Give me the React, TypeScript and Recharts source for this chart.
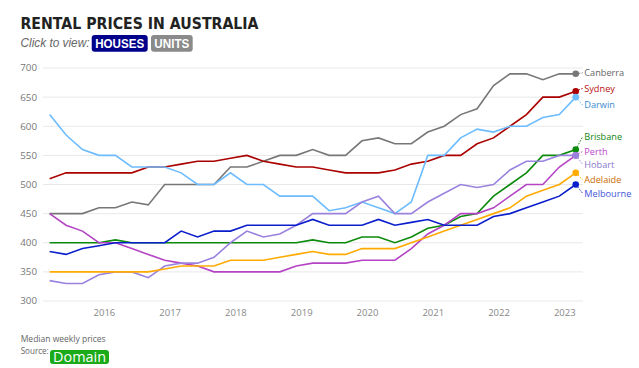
import React from "react";
import { LineChart, Line, XAxis, YAxis, CartesianGrid } from "recharts";

// quarterly medians, Mar 2015 .. Mar 2023
const quarters = [
  "2015-03", "2015-06", "2015-09", "2015-12",
  "2016-03", "2016-06", "2016-09", "2016-12",
  "2017-03", "2017-06", "2017-09", "2017-12",
  "2018-03", "2018-06", "2018-09", "2018-12",
  "2019-03", "2019-06", "2019-09", "2019-12",
  "2020-03", "2020-06", "2020-09", "2020-12",
  "2021-03", "2021-06", "2021-09", "2021-12",
  "2022-03", "2022-06", "2022-09", "2022-12",
  "2023-03",
];

const canberra = [450, 450, 450, 460, 460, 470, 465, 500, 500, 500, 500, 530, 530, 540, 550, 550, 560, 550, 550, 575, 580, 570, 570, 590, 600, 620, 630, 670, 690, 690, 680, 690, 690];
const sydney = [510, 520, 520, 520, 520, 520, 530, 530, 535, 540, 540, 545, 550, 540, 535, 530, 530, 525, 520, 520, 520, 525, 535, 540, 550, 550, 570, 580, 600, 620, 650, 650, 660];
const darwin = [620, 585, 560, 550, 550, 530, 530, 530, 520, 500, 500, 520, 500, 500, 480, 480, 480, 455, 460, 470, 460, 450, 470, 550, 550, 580, 595, 590, 600, 600, 615, 620, 650];
const brisbane = [400, 400, 400, 400, 405, 400, 400, 400, 400, 400, 400, 400, 400, 400, 400, 400, 405, 400, 400, 410, 410, 400, 410, 425, 430, 445, 450, 480, 500, 520, 550, 550, 560];
const perth = [450, 430, 420, 400, 400, 390, 380, 370, 365, 360, 350, 350, 350, 350, 350, 360, 365, 365, 365, 370, 370, 370, 390, 415, 430, 450, 450, 460, 480, 500, 500, 530, 550];
const hobart = [335, 330, 330, 345, 350, 350, 340, 360, 365, 365, 375, 400, 420, 410, 415, 430, 450, 450, 450, 470, 480, 450, 450, 470, 485, 500, 495, 500, 525, 540, 540, 550, 550];
const adelaide = [350, 350, 350, 350, 350, 350, 350, 355, 360, 360, 360, 370, 370, 370, 375, 380, 385, 380, 380, 390, 390, 390, 400, 410, 420, 430, 440, 450, 460, 480, 490, 500, 520];
const melbourne = [385, 380, 390, 395, 400, 400, 400, 400, 420, 410, 420, 420, 430, 430, 430, 430, 440, 430, 430, 430, 440, 430, 435, 440, 430, 430, 430, 445, 450, 460, 470, 480, 500];

const yearTicks = [2016, 2017, 2018, 2019, 2020, 2021, 2022, 2023];
const priceTicks = [300, 350, 400, 450, 500, 550, 600, 650, 700];

const series = [
  { key: "canberra", name: "Canberra", values: canberra },
  { key: "sydney", name: "Sydney", values: sydney },
  { key: "darwin", name: "Darwin", values: darwin },
  { key: "brisbane", name: "Brisbane", values: brisbane },
  { key: "perth", name: "Perth", values: perth },
  { key: "hobart", name: "Hobart", values: hobart },
  { key: "adelaide", name: "Adelaide", values: adelaide },
  { key: "melbourne", name: "Melbourne", values: melbourne },
];

// line colour, label colour, label nudge (px) so names don't collide
const look: Record<string, { stroke: string; text: string; dy: number }> = {
  canberra: { stroke: "#777777", text: "#666666", dy: -1 },
  sydney: { stroke: "#aa0000", text: "#bb1111", dy: -3 },
  darwin: { stroke: "#6cbcff", text: "#3a8ad0", dy: 8 },
  brisbane: { stroke: "#0c8a0c", text: "#118811", dy: -13 },
  perth: { stroke: "#b444c4", text: "#bb44cc", dy: -4 },
  hobart: { stroke: "#9a82de", text: "#8878cc", dy: 9 },
  adelaide: { stroke: "#ffaa00", text: "#c86a00", dy: 7 },
  melbourne: { stroke: "#0a1ecc", text: "#4455dd", dy: 9 },
};

function toYear(q: string) {
  const [y, m] = q.split("-").map(Number);
  return y + (m - 1) / 12;
}

const data = quarters.map((q, i) => {
  const row: Record<string, number> = { t: toYear(q) };
  series.forEach((s) => (row[s.key] = s.values[i]));
  return row;
});

const LAST = quarters.length - 1;

const endLabel = (key: string, name: string) => (props: any) => {
  const { cx, cy, index } = props;
  if (index !== LAST || cx == null) return <g key={`d-${key}-${index}`} />;
  const c = look[key];
  const ly = cy + c.dy;
  return (
    <g key={`d-${key}-${index}`}>
      <line x1={cx} y1={cy} x2={cx + 7} y2={ly} stroke={c.stroke} strokeWidth={1} strokeDasharray="1.5 1.5" />
      <circle cx={cx} cy={cy} r={3.3} fill={c.stroke} />
      <text x={cx + 8.5} y={ly} dy="0.35em" fontSize={9.2} fill={c.text}>{name}</text>
    </g>
  );
};

function Header() {
  return (
    <svg width={639} height={58} style={{ position: "absolute", left: 0, top: 0 }}>
      <text x={20.5} y={29.3} fontFamily="DejaVu Sans" fontWeight={700} fontSize={15.5}
        fill="#222" textLength={238} lengthAdjust="spacingAndGlyphs">RENTAL PRICES IN AUSTRALIA</text>
      <text x={20.5} y={46.5} fontFamily="Liberation Sans" fontStyle="italic" fontSize={12.5}
        fill="#666" textLength={69} lengthAdjust="spacingAndGlyphs">Click to view:</text>
      <rect x={91.7} y={35} width={56} height={16.7} rx={3} fill="#00008b" />
      <text x={119.7} y={47.8} textAnchor="middle" fontFamily="Liberation Sans" fontWeight={700}
        fontSize={12} fill="#fff" textLength={49} lengthAdjust="spacingAndGlyphs">HOUSES</text>
      <rect x={151} y={35} width={41.7} height={16.7} rx={3} fill="#8a8a8a" />
      <text x={171.8} y={47.8} textAnchor="middle" fontFamily="Liberation Sans" fontWeight={700}
        fontSize={12} fill="#fff" textLength={35} lengthAdjust="spacingAndGlyphs">UNITS</text>
    </svg>
  );
}

function Footer() {
  return (
    <svg width={639} height={43} style={{ position: "absolute", left: 0, top: 325 }}>
      <text x={20.7} y={16.8} fontSize={8.5} fill="#666" textLength={85} lengthAdjust="spacingAndGlyphs">Median weekly prices</text>
      <text x={20.7} y={29} fontSize={8.5} fill="#666" textLength={28} lengthAdjust="spacingAndGlyphs">Source:</text>
      <rect x={50} y={25} width={59} height={14} rx={3} fill="#1aaa1a" />
      <text x={79.5} y={36.6} textAnchor="middle" fontSize={14} fill="#fff" textLength={53} lengthAdjust="spacingAndGlyphs">Domain</text>
    </svg>
  );
}

export default function App() {
  return (
    <div style={{ position: "relative", width: 639, height: 368, background: "#fff", fontFamily: "'Open Sans', sans-serif" }}>
      <style>{"body{margin:0}"}</style>
      <LineChart width={639} height={330} data={data} margin={{ top: 68, right: 56, bottom: 9, left: 0 }}>
        <CartesianGrid vertical={false} stroke="#e8e8e8" />
        <XAxis
          dataKey="t" type="number" domain={[2015.066, 2023.277]} ticks={yearTicks}
          tick={{ fontSize: 9.5, fill: "#888" }} tickLine={false} axisLine={false}
          height={20} tickMargin={2}
        />
        <YAxis
          domain={[300, 700]} ticks={priceTicks} width={43}
          tick={{ fontSize: 9.8, fill: "#777" }} tickLine={false} axisLine={false} tickMargin={0}
        />
        {series.map((s) => (
          <Line key={s.key} dataKey={s.key} type="linear" stroke={look[s.key].stroke}
            strokeWidth={1.6} dot={endLabel(s.key, s.name)} activeDot={false}
            isAnimationActive={false} />
        ))}
      </LineChart>
      <Header />
      <Footer />
    </div>
  );
}
